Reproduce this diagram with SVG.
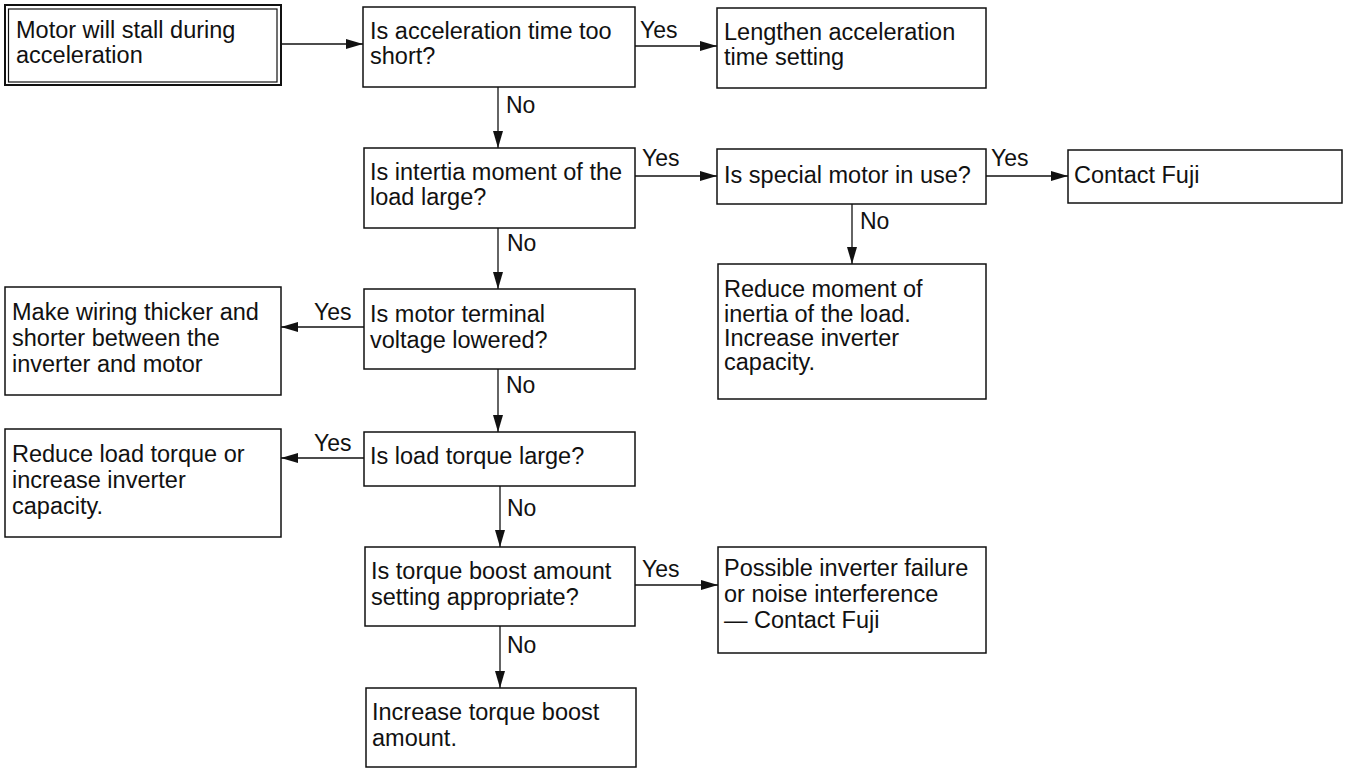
<svg xmlns="http://www.w3.org/2000/svg" width="1349" height="769" viewBox="0 0 1349 769">
<style>
.box{fill:#fff;stroke:#111;stroke-width:1.5}
.t{font-family:"Liberation Sans",Arial,sans-serif;font-size:23.5px;fill:#111}
.lbl{font-family:"Liberation Sans",Arial,sans-serif;font-size:23px;fill:#111}
.c{stroke:#111;stroke-width:1.3;fill:none;marker-end:url(#ah)}
</style>
<defs>
<marker id="ah" viewBox="0 0 17 10" refX="17" refY="5" markerWidth="17" markerHeight="10" markerUnits="userSpaceOnUse" orient="auto">
<path d="M0,0 L17,5 L0,10 Z" fill="#111"/>
</marker>
</defs>
<rect width="1349" height="769" fill="#fff"/>
<g id="connectors">
<line class="c" x1="281" y1="44" x2="363" y2="44"/>
<line class="c" x1="635" y1="46" x2="717" y2="46"/>
<line class="c" x1="498" y1="87" x2="498" y2="148"/>
<line class="c" x1="635" y1="176" x2="717" y2="176"/>
<line class="c" x1="986" y1="176" x2="1068" y2="176"/>
<line class="c" x1="852" y1="204" x2="852" y2="264"/>
<line class="c" x1="498" y1="228" x2="498" y2="289"/>
<line class="c" x1="364" y1="327" x2="281" y2="327"/>
<line class="c" x1="498" y1="369" x2="498" y2="432"/>
<line class="c" x1="364" y1="458" x2="281" y2="458"/>
<line class="c" x1="500" y1="486" x2="500" y2="547"/>
<line class="c" x1="635" y1="585" x2="718" y2="585"/>
<line class="c" x1="500" y1="626" x2="500" y2="688"/>
<text class="lbl" x="640" y="38">Yes</text>
<text class="lbl" x="506" y="113">No</text>
<text class="lbl" x="642" y="166">Yes</text>
<text class="lbl" x="991" y="166">Yes</text>
<text class="lbl" x="860" y="229">No</text>
<text class="lbl" x="507" y="251">No</text>
<text class="lbl" x="314" y="320">Yes</text>
<text class="lbl" x="506" y="393">No</text>
<text class="lbl" x="314" y="451">Yes</text>
<text class="lbl" x="507" y="516">No</text>
<text class="lbl" x="642" y="577">Yes</text>
<text class="lbl" x="507" y="653">No</text>
</g>
<g id="start">
<rect class="box" x="5" y="5" width="276" height="80" style="stroke-width:2"/>
<rect class="box" x="8.5" y="9" width="268.5" height="73" style="stroke-width:1.2"/>
<text class="t" x="16" y="38">Motor will stall during</text>
<text class="t" x="16" y="63">acceleration</text>
</g>
<g id="q-accel">
<rect class="box" x="363" y="7" width="272" height="80"/>
<text class="t" x="370" y="39">Is acceleration time too</text>
<text class="t" x="370" y="64">short?</text>
</g>
<g id="a-lengthen">
<rect class="box" x="717" y="8" width="269" height="80"/>
<text class="t" x="724" y="40">Lengthen acceleration</text>
<text class="t" x="724" y="65">time setting</text>
</g>
<g id="q-inertia">
<rect class="box" x="364" y="148" width="271" height="80"/>
<text class="t" x="370" y="180">Is intertia moment of the</text>
<text class="t" x="370" y="205">load large?</text>
</g>
<g id="q-special">
<rect class="box" x="717" y="149" width="269" height="55"/>
<text class="t" x="724" y="183">Is special motor in use?</text>
</g>
<g id="a-contact1">
<rect class="box" x="1068" y="150" width="274" height="53"/>
<text class="t" x="1074" y="183">Contact Fuji</text>
</g>
<g id="a-reduce-moment">
<rect class="box" x="718" y="264" width="268" height="135"/>
<text class="t" x="724" y="297">Reduce moment of</text>
<text class="t" x="724" y="322">inertia of the load.</text>
<text class="t" x="724" y="346">Increase inverter</text>
<text class="t" x="724" y="370">capacity.</text>
</g>
<g id="q-voltage">
<rect class="box" x="364" y="289" width="271" height="80"/>
<text class="t" x="370" y="322">Is motor terminal</text>
<text class="t" x="370" y="348">voltage lowered?</text>
</g>
<g id="a-wiring">
<rect class="box" x="5" y="287" width="276" height="108"/>
<text class="t" x="12" y="320">Make wiring thicker and</text>
<text class="t" x="12" y="346">shorter between the</text>
<text class="t" x="12" y="372">inverter and motor</text>
</g>
<g id="q-load">
<rect class="box" x="364" y="432" width="271" height="54"/>
<text class="t" x="370" y="464">Is load torque large?</text>
</g>
<g id="a-reduce-load">
<rect class="box" x="5" y="429" width="276" height="108"/>
<text class="t" x="12" y="462">Reduce load torque or</text>
<text class="t" x="12" y="488">increase inverter</text>
<text class="t" x="12" y="514">capacity.</text>
</g>
<g id="q-boost">
<rect class="box" x="365" y="547" width="270" height="79"/>
<text class="t" x="371" y="579">Is torque boost amount</text>
<text class="t" x="371" y="605">setting appropriate?</text>
</g>
<g id="a-failure">
<rect class="box" x="718" y="547" width="268" height="106"/>
<text class="t" x="724" y="576">Possible inverter failure</text>
<text class="t" x="724" y="602">or noise interference</text>
<text class="t" x="724" y="628">— Contact Fuji</text>
</g>
<g id="a-increase">
<rect class="box" x="366" y="688" width="270" height="79"/>
<text class="t" x="372" y="720">Increase torque boost</text>
<text class="t" x="372" y="746">amount.</text>
</g>
</svg>
